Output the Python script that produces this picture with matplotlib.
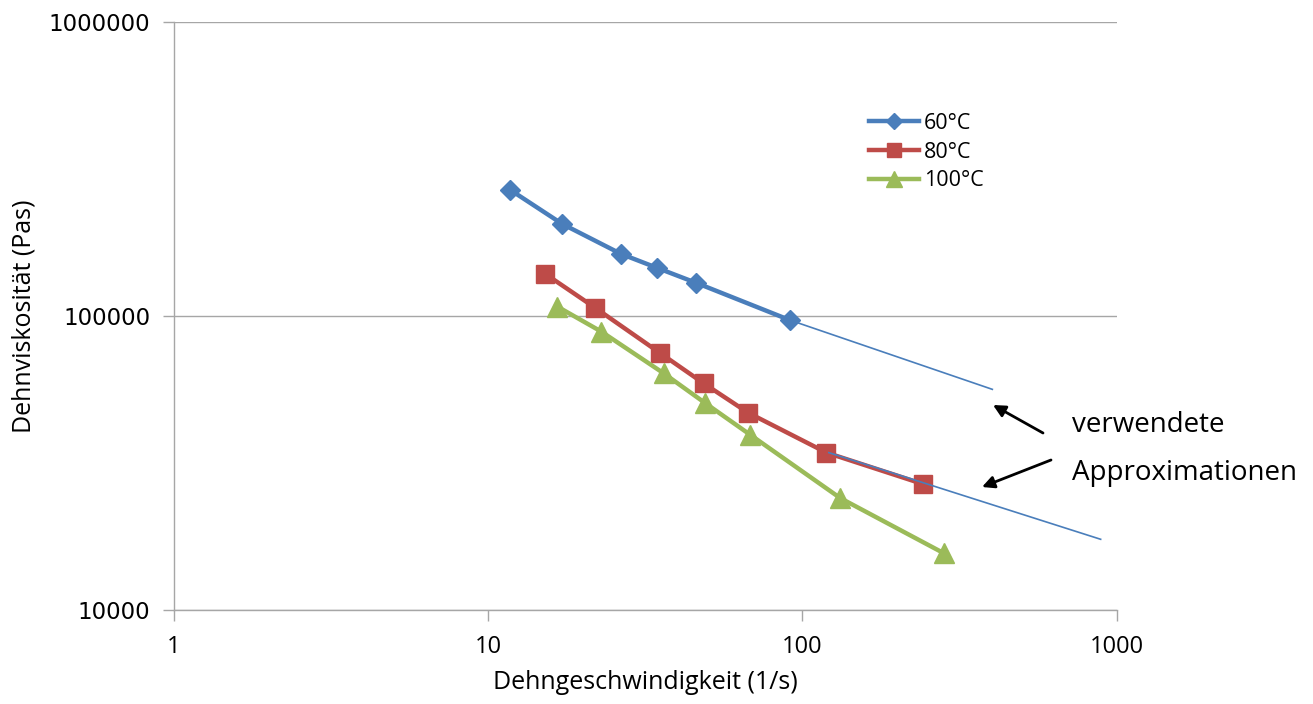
import matplotlib
matplotlib.use("Agg")
import matplotlib.pyplot as plt

rate_60 = [11.75, 17.2, 26.5, 34.5, 46, 91]
visc_60 = [268500, 205600, 162500, 145700, 129500, 96900]

rate_80 = [15.2, 21.9, 35.3, 48.5, 67.1, 119.2, 242.3]
visc_80 = [139000, 106600, 74700, 59000, 46900, 34300, 26800]

rate_100 = [16.6, 22.9, 36.2, 49.1, 68.3, 132.1, 281.8]
visc_100 = [107600, 88500, 63800, 50500, 39400, 24000, 15600]

# power-law approximations (start / end points)
fit_60_rate = [91, 402]
fit_60_visc = [96900, 56300]
fit_80_rate = [121.3, 889]
fit_80_visc = [34300, 17400]

labels = ["60°C", "80°C", "100°C"]

blue = "#4A7EBB"
red = "#BE4B48"
green = "#9BBB59"
grey = "#A6A6A6"

plt.rcParams['font.family'] = ['Open Sans', 'DejaVu Sans']

fig = plt.figure(figsize=(13.13, 7.04), dpi=100)
ax = fig.add_axes([0.1325, 0.1335, 0.8505 - 0.1325, 0.9688 - 0.1335])

ax.plot(rate_60, visc_60, color=blue, lw=3.2, marker='D', ms=10,
        label=labels[0], zorder=3)
ax.plot(rate_80, visc_80, color=red, lw=3.2, marker='s', ms=12.5,
        label=labels[1], zorder=3)
ax.plot(rate_100, visc_100, color=green, lw=3.2, marker='^', ms=14,
        label=labels[2], zorder=3)

ax.plot(fit_60_rate, fit_60_visc, color=blue, lw=1.2, zorder=4)
ax.plot(fit_80_rate, fit_80_visc, color=blue, lw=1.2, zorder=4)

ax.set_xscale('log')
ax.set_yscale('log')
ax.set_xlim(1, 1000)
ax.set_ylim(10000, 1000000)

ax.set_xticks([1, 10, 100, 1000])
ax.set_xticklabels(["1", "10", "100", "1000"], fontsize=17)
ax.set_yticks([10000, 100000, 1000000])
ax.set_yticklabels(["10000", "100000", "1000000"], family='DejaVu Sans', fontsize=16.5)
ax.minorticks_off()

ax.tick_params(axis='both', which='major', length=8, width=1, color=grey,
               labelcolor='black')
ax.tick_params(axis='x', pad=10)
ax.tick_params(axis='y', pad=9)

ax.grid(True, axis='y', which='major', color=grey, lw=1)
ax.set_axisbelow(True)
for side in ['top', 'right']:
    ax.spines[side].set_visible(False)
for side in ['left', 'bottom']:
    ax.spines[side].set_color(grey)
    ax.spines[side].set_linewidth(1)

ax.set_xlabel("Dehngeschwindigkeit (1/s)", fontsize=18, labelpad=8)
ax.set_ylabel("Dehnviskosität (Pas)", fontsize=18, labelpad=9)

ax.legend(loc='upper left', bbox_to_anchor=(869 / 1313, 1 - 113 / 704),
          bbox_transform=fig.transFigure, frameon=False, fontsize=15.5,
          handlelength=2.3, handletextpad=0.25, borderpad=0, borderaxespad=0,
          labelspacing=0.36, markerscale=0.8)

# annotation arrows and text
fig.text(1072 / 1313, 1 - 432 / 704, "verwendete", fontsize=20, va='baseline')
fig.text(1072 / 1313, 1 - 480 / 704, "Approximationen", fontsize=20, va='baseline')
arrow = dict(arrowstyle='-|>', color='black', lw=2, mutation_scale=18,
             shrinkA=0, shrinkB=0)
ax.annotate("", xy=(993 / 1313, 1 - 405 / 704), xytext=(1043 / 1313, 1 - 433 / 704),
            xycoords='figure fraction', textcoords='figure fraction', arrowprops=arrow)
ax.annotate("", xy=(982 / 1313, 1 - 487 / 704), xytext=(1051 / 1313, 1 - 460 / 704),
            xycoords='figure fraction', textcoords='figure fraction', arrowprops=arrow)

fig.savefig("out.png", dpi=100, facecolor='white')
